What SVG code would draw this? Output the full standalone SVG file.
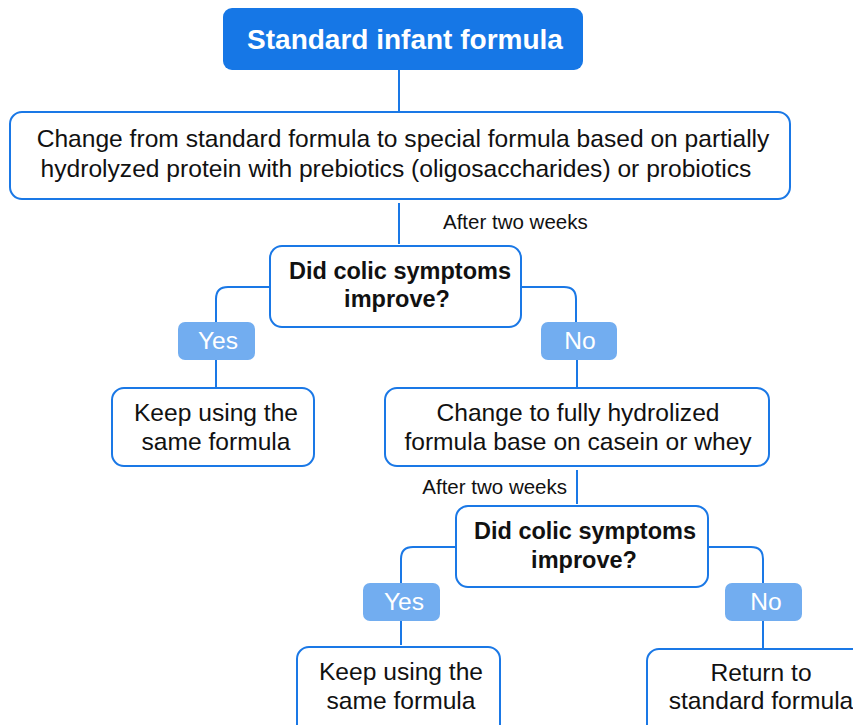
<svg xmlns="http://www.w3.org/2000/svg" width="853" height="725" viewBox="0 0 853 725">
<style>
.box{fill:#fff;stroke:#1a78e6;stroke-width:2}
.pill{fill:#72adf0}
.t{font-family:"Liberation Sans",Arial,sans-serif;font-size:24.6px;fill:#111;text-anchor:middle}
.b{font-weight:bold;font-size:23.5px}
.w{fill:#fff}
.lbl{font-family:"Liberation Sans",Arial,sans-serif;font-size:20.5px;fill:#111}
.c{fill:none;stroke:#1a78e6;stroke-width:2}
</style>
<rect width="853" height="725" fill="#fff"/>
<g id="connectors">
<path class="c" d="M399 70 V112"/>
<path class="c" d="M399 203 V244"/>
<path class="c" d="M270 287 H228 Q216 287 216 299 V322"/>
<path class="c" d="M216 360 V388"/>
<path class="c" d="M521 287 H564 Q576 287 576 299 V322"/>
<path class="c" d="M577 360 V388"/>
<path class="c" d="M577 470 V504"/>
<path class="c" d="M456 547 H413 Q401 547 401 559 V583"/>
<path class="c" d="M401 621 V645"/>
<path class="c" d="M708 547 H751 Q763 547 763 559 V583"/>
<path class="c" d="M763 621 V648"/>
<text class="lbl" x="443" y="229">After two weeks</text>
<text class="lbl" x="567" y="494" text-anchor="end">After two weeks</text>
</g>
<g id="start">
<rect x="223" y="8" width="360" height="62" rx="9" fill="#1677e6"/>
<text class="t w" x="405" y="49" style="font-size:28px;font-weight:bold">Standard infant formula</text>
</g>
<g id="change1">
<rect class="box" x="10" y="112" width="780" height="87" rx="12"/>
<text class="t" x="403" y="147">Change from standard formula to special formula based on partially</text>
<text class="t" x="396" y="177">hydrolyzed protein with prebiotics (oligosaccharides) or probiotics</text>
</g>
<g id="decision1">
<rect class="box" x="270" y="246" width="251" height="81" rx="12"/>
<text class="t b" x="400" y="279">Did colic symptoms</text>
<text class="t b" x="397" y="307">improve?</text>
</g>
<g id="yes1">
<rect class="pill" x="178" y="322" width="77" height="38" rx="7"/>
<text class="t w" x="218" y="349">Yes</text>
</g>
<g id="no1">
<rect class="pill" x="541" y="322" width="76" height="38" rx="7"/>
<text class="t w" x="580" y="349">No</text>
</g>
<g id="keep1">
<rect class="box" x="112" y="388" width="202" height="78" rx="12"/>
<text class="t" x="216" y="421">Keep using the</text>
<text class="t" x="216" y="450">same formula</text>
</g>
<g id="change2">
<rect class="box" x="385" y="388" width="384" height="78" rx="12"/>
<text class="t" x="578" y="421">Change to fully hydrolized</text>
<text class="t" x="578" y="450">formula base on casein or whey</text>
</g>
<g id="decision2">
<rect class="box" x="456" y="506" width="252" height="81" rx="12"/>
<text class="t b" x="585" y="539">Did colic symptoms</text>
<text class="t b" x="584" y="568">improve?</text>
</g>
<g id="yes2">
<rect class="pill" x="363" y="583" width="77" height="38" rx="7"/>
<text class="t w" x="404" y="610">Yes</text>
</g>
<g id="no2">
<rect class="pill" x="725" y="583" width="77" height="38" rx="7"/>
<text class="t w" x="766" y="610">No</text>
</g>
<g id="keep2">
<rect class="box" x="297" y="647" width="203" height="90" rx="12"/>
<text class="t" x="401" y="680">Keep using the</text>
<text class="t" x="401" y="709">same formula</text>
</g>
<g id="return">
<rect class="box" x="647" y="649" width="220" height="90" rx="12"/>
<text class="t" x="761" y="681">Return to</text>
<text class="t" x="761" y="709">standard formula</text>
</g>
</svg>
